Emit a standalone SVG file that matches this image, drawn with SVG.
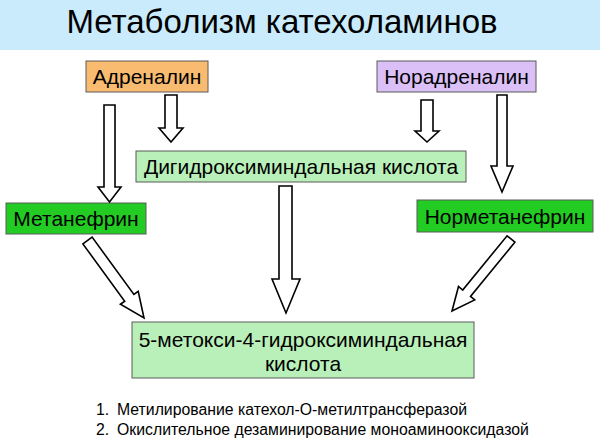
<svg xmlns="http://www.w3.org/2000/svg" width="600" height="441" viewBox="0 0 600 441">
<style>
text{font-family:"Liberation Sans",Arial,sans-serif;fill:#000}
.box{stroke:#5a5a5a;stroke-width:1}
.lbl{font-size:21px;text-anchor:middle}
.arr{fill:#fff;stroke:#000;stroke-width:1.6;stroke-linejoin:miter}
.note{font-size:15.8px}
</style>
<rect x="0" y="0" width="600" height="50" fill="#c9ebfb"/>
<text x="282" y="33" font-size="33" text-anchor="middle">Метаболизм катехоламинов</text>
<g id="adrenalin"><rect class="box" x="86" y="61" width="122" height="31" fill="#f9bb6f"/><text class="lbl" x="147" y="84">Адреналин</text></g>
<g id="noradrenalin"><rect class="box" x="377" y="61" width="159" height="31" fill="#dac0f6"/><text class="lbl" x="456.5" y="84">Норадреналин</text></g>
<g id="dihydroxy"><rect class="box" x="136" y="151" width="330" height="31" fill="#b9f0b9"/><text class="lbl" x="301" y="174">Дигидроксиминдальная кислота</text></g>
<g id="metanephrine"><rect class="box" x="6" y="203" width="140" height="31" fill="#22cc22"/><text class="lbl" x="76" y="226">Метанефрин</text></g>
<g id="normetanephrine"><rect class="box" x="417" y="200" width="176" height="32" fill="#22cc22"/><text class="lbl" x="505" y="223.5">Норметанефрин</text></g>
<g id="vma"><rect class="box" x="132" y="322" width="342" height="56" fill="#b9f0b9"/><text class="lbl" x="303" y="347">5-метокси-4-гидроксиминдальная</text><text class="lbl" x="303" y="371">кислота</text></g>
<g id="connectors">
<polygon class="arr" points="104,105 115,105 115,187 121,187 109.5,202 98,187 104,187"/>
<polygon class="arr" points="165,95 177,95 177,128 183,128 171,142 159,128 165,128"/>
<polygon class="arr" points="421,100 433,100 433,131 439,131 427,142 415,131 421,131"/>
<polygon class="arr" points="497,95 507,95 507,166 513,166 502,192 491,166 497,166"/>
<polygon class="arr" points="279,186 292,186 292,279 300,279 286,313 272,279 279,279"/>
<polygon class="arr" points="82.9,243.9 92.1,237.1 133.9,294.4 138.2,291.3 144,318 120.4,304.3 124.7,301.2"/>
<polygon class="arr" points="507.1,235.8 514.9,242.2 470.5,296.4 474.7,299.9 452,311 458.5,286.5 462.7,290"/>
</g>
<g id="notes">
<text class="note" x="96" y="415">1.</text><text class="note" x="117" y="415">Метилирование катехол-О-метилтрансферазой</text>
<text class="note" x="96" y="435">2.</text><text class="note" x="117" y="435">Окислительное дезаминирование моноаминооксидазой</text>
</g>
</svg>
